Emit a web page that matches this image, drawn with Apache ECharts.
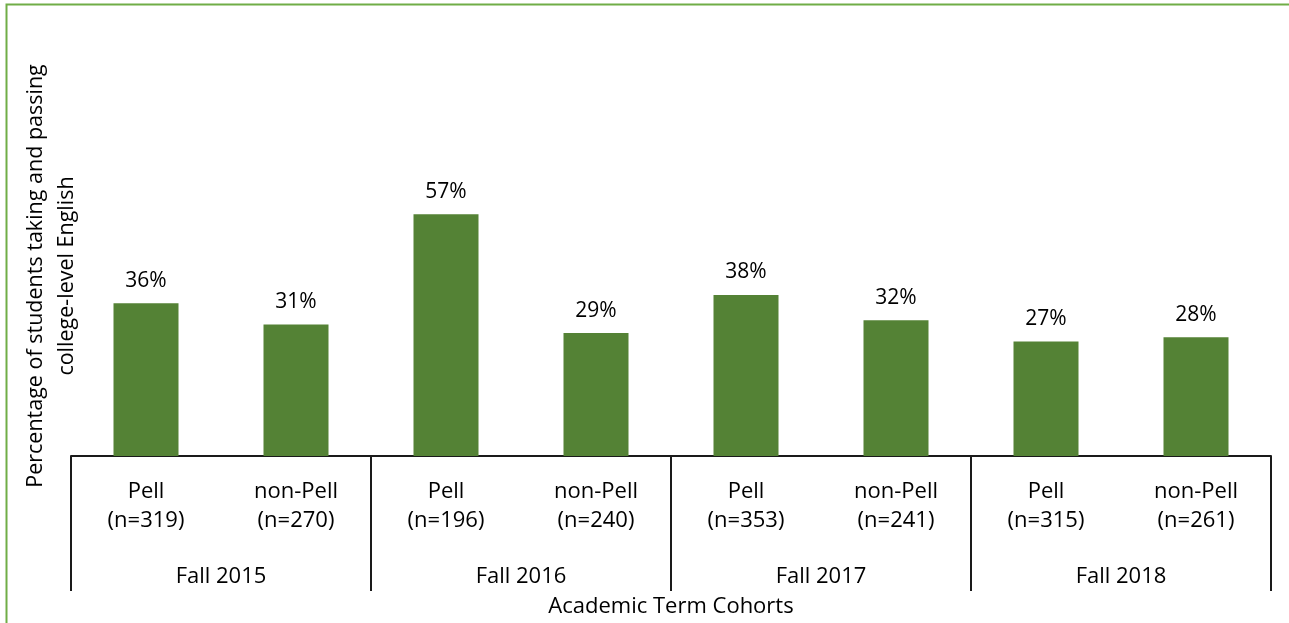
<!DOCTYPE html>
<html>
<head>
<meta charset="utf-8">
<script src="https://cdn.jsdelivr.net/npm/echarts@6/dist/echarts.min.js"></script>
<style>
  html, body { margin: 0; padding: 0; background: #fff; }
  #chart { width: 1289px; height: 623px; }
</style>
</head>
<body>
<div id="chart"></div>
<script>
// Cohort terms (outer axis level) and student groups (inner axis level)
const terms = ['Fall 2015', 'Fall 2016', 'Fall 2017', 'Fall 2018'];
const groups = ['Pell', 'non-Pell', 'Pell', 'non-Pell', 'Pell', 'non-Pell', 'Pell', 'non-Pell'];
const cohortSizes = [319, 270, 196, 240, 353, 241, 315, 261];
// Percentage of students taking and passing college-level English
const passRates = [36, 31, 57, 29, 38, 32, 27, 28];

const groupLabels = groups.map((g, i) => g + '\n(n=' + cohortSizes[i] + ')');

const FONT = 'Open Sans';
const chart = echarts.init(document.getElementById('chart'));

chart.setOption({
  backgroundColor: '#ffffff',
  animation: false,
  textStyle: { fontFamily: FONT },
  grid: { left: 71, right: 18, top: 32, bottom: 166, containLabel: false },
  xAxis: [
    {
      type: 'category',
      position: 'bottom',
      data: groupLabels,
      axisLine: { show: true, lineStyle: { color: '#1a1a1a', width: 2 } },
      axisTick: { show: false },
      axisLabel: {
        interval: 0,
        margin: 21,
        fontFamily: FONT,
        fontSize: 22,
        lineHeight: 29,
        color: '#000'
      }
    },
    {
      type: 'category',
      position: 'bottom',
      data: terms,
      axisLine: { show: false },
      axisTick: {
        show: true,
        inside: false,
        length: 135,
        interval: 0,
        lineStyle: { color: '#1a1a1a', width: 2 }
      },
      axisLabel: {
        interval: 0,
        margin: 110,
        fontFamily: FONT,
        fontSize: 22,
        color: '#000'
      },
      name: 'Academic Term Cohorts',
      nameLocation: 'middle',
      nameGap: 140,
      nameTextStyle: { fontFamily: FONT, fontSize: 22, color: '#000' }
    }
  ],
  yAxis: {
    type: 'value',
    min: 0,
    max: 100,
    show: false
  },
  graphic: [
    {
      type: 'polyline',
      shape: { points: [[6.5, 623], [6.5, 4.5], [1289, 4.5]] },
      style: { stroke: '#70ad47', lineWidth: 2, fill: null },
      silent: true
    },
    {
      type: 'text',
      x: 51,
      y: 276,
      rotation: Math.PI / 2,
      style: {
        text: 'Percentage of students taking and passing\ncollege-level English',
        fontFamily: FONT,
        fontSize: 21.5,
        lineHeight: 31,
        fill: '#000',
        align: 'center',
        verticalAlign: 'middle'
      }
    }
  ],
  series: [
    {
      type: 'bar',
      xAxisIndex: 0,
      data: passRates,
      barWidth: 65,
      itemStyle: { color: '#548235' },
      label: {
        show: true,
        position: 'top',
        distance: 12,
        formatter: '{c}%',
        fontFamily: FONT,
        fontSize: 21,
        color: '#000'
      }
    }
  ]
});
</script>
</body>
</html>
